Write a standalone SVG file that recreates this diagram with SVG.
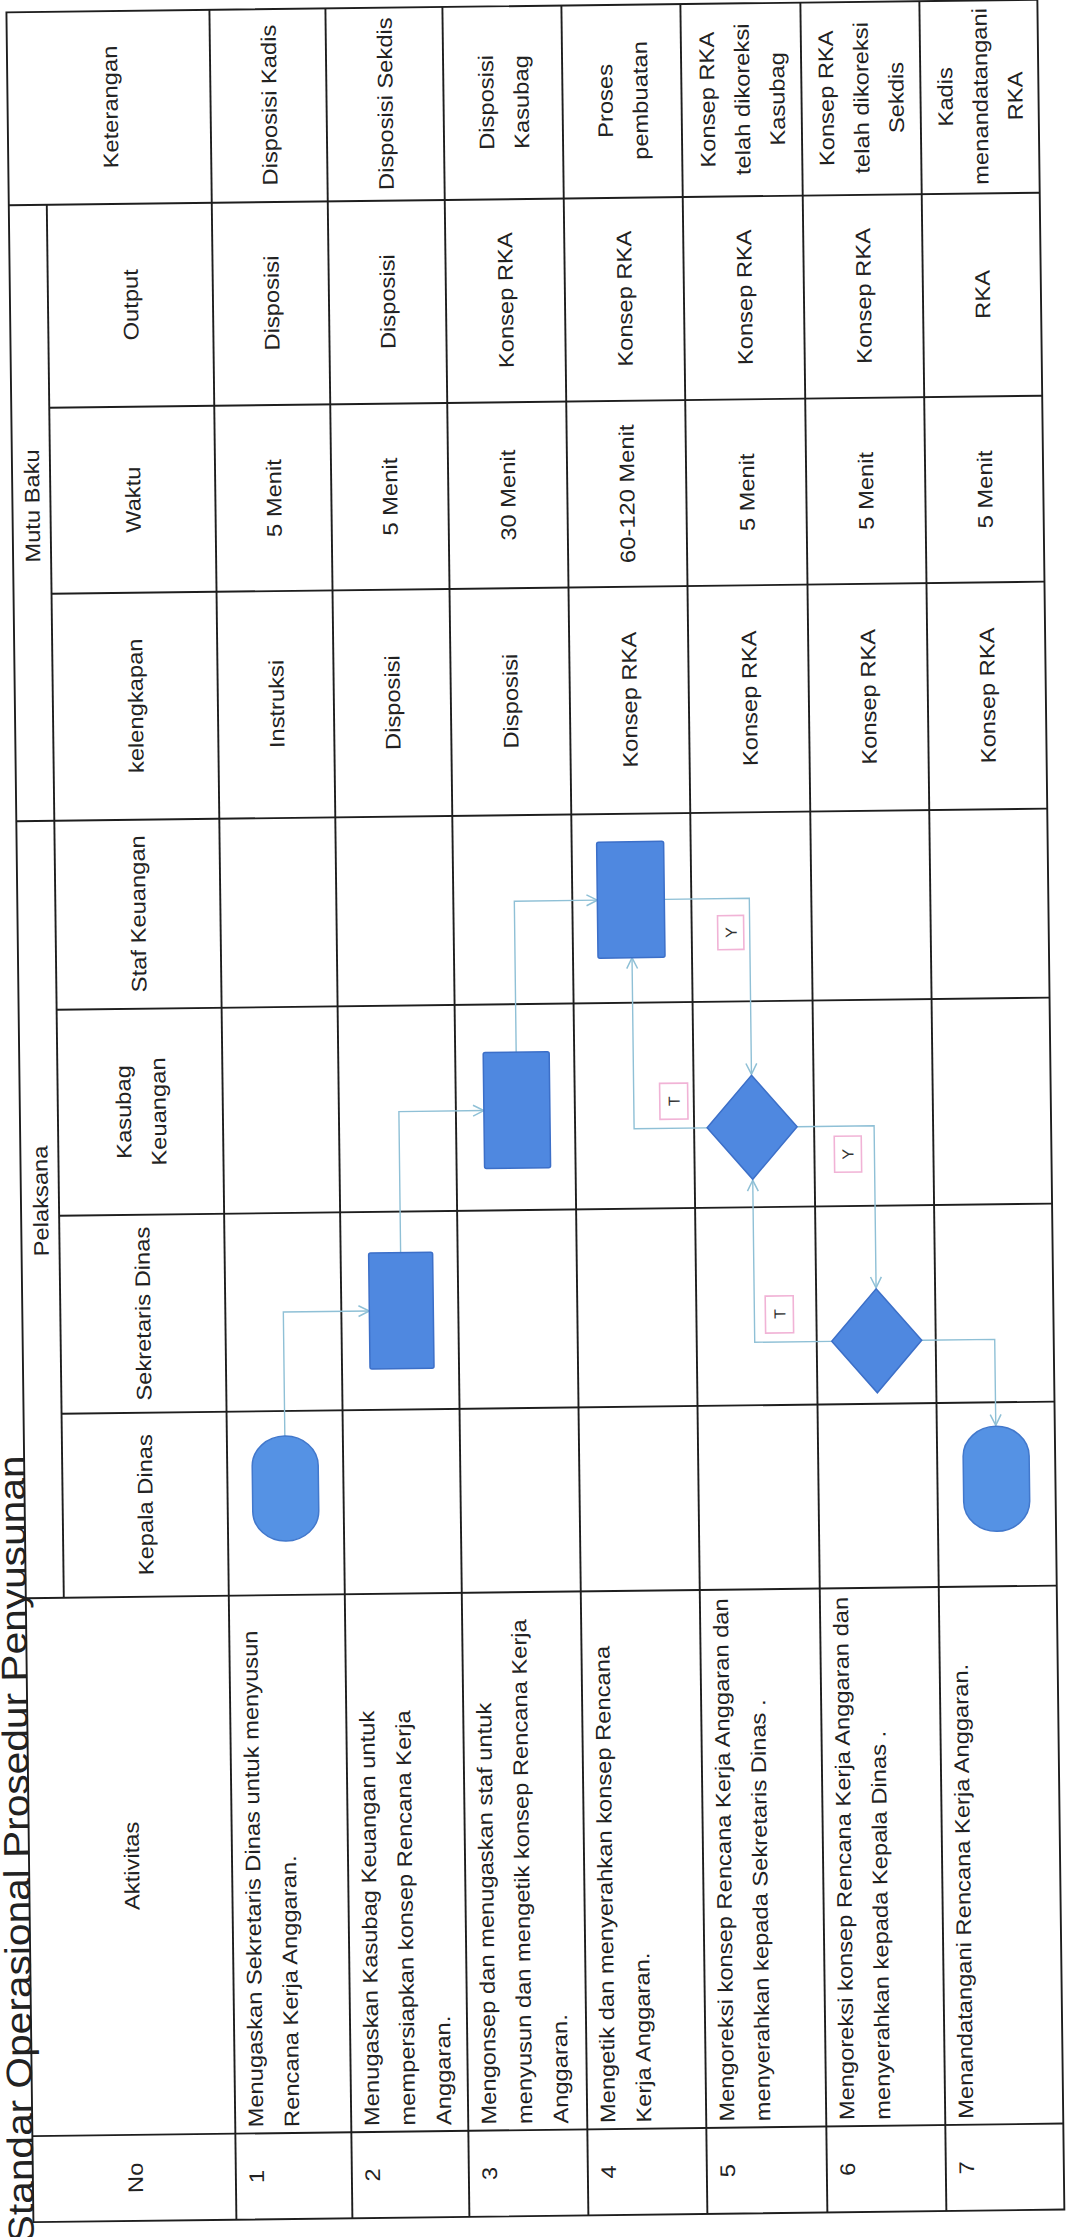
<svg xmlns="http://www.w3.org/2000/svg" width="1067" height="2237" viewBox="0 0 1067 2237">
<defs>
<style>
.g{stroke:#1e1e1e;stroke-width:1.9;fill:none}
.t{font-family:"Liberation Sans",Arial,sans-serif;font-size:21px;fill:#222}
.m{text-anchor:middle}
.s{text-anchor:start}
.shape{fill:#4f88e0;stroke:#3c6fc8;stroke-width:1.5}
.oval{fill:#5592e4;stroke:#4278cc;stroke-width:1.5}
.c{stroke:#8fc0d6;stroke-width:1.4;fill:none}
.lb{fill:#ffffff;stroke:#f1b3d6;stroke-width:1.6}
.lt{font-family:"Liberation Sans",Arial,sans-serif;font-size:16px;fill:#333;text-anchor:middle}
</style>
<marker id="ar" viewBox="0 0 12 12" refX="11" refY="6" markerWidth="13" markerHeight="13" markerUnits="userSpaceOnUse" orient="auto">
<path d="M1,1 L11,6 L1,11" fill="none" stroke="#8fc0d6" stroke-width="1.4"/>
</marker>
</defs>
<rect x="0" y="0" width="1067" height="2237" fill="#ffffff"/>
<g id="page" transform="rotate(-0.7 530 1120)">
<text class="t s" style="font-size:36px" transform="translate(20,2236) rotate(-90) scale(1.13,1)">Standar Operasional Prosedur Penyusunan</text>
<g id="grid">
<rect class="g" x="20" y="6" width="1031" height="2210"/>
<line class="g" x1="58" y1="199" x2="58" y2="1592"/>
<line class="g" x1="223" y1="6" x2="223" y2="2216"/>
<line class="g" x1="339" y1="6" x2="339" y2="2216"/>
<line class="g" x1="456" y1="6" x2="456" y2="2216"/>
<line class="g" x1="575" y1="6" x2="575" y2="2216"/>
<line class="g" x1="694" y1="6" x2="694" y2="2216"/>
<line class="g" x1="814" y1="6" x2="814" y2="2216"/>
<line class="g" x1="933" y1="6" x2="933" y2="2216"/>
<line class="g" x1="20" y1="199" x2="1051" y2="199"/>
<line class="g" x1="58" y1="402" x2="1051" y2="402"/>
<line class="g" x1="58" y1="588" x2="1051" y2="588"/>
<line class="g" x1="20" y1="815" x2="1051" y2="815"/>
<line class="g" x1="58" y1="1004" x2="1051" y2="1004"/>
<line class="g" x1="58" y1="1210" x2="1051" y2="1210"/>
<line class="g" x1="58" y1="1408" x2="1051" y2="1408"/>
<line class="g" x1="20" y1="1592" x2="1051" y2="1592"/>
<line class="g" x1="20" y1="2130" x2="1051" y2="2130"/>
</g>
<g id="headers">
<text class="t m" transform="translate(130,102) rotate(-90) scale(1.13,1)">Keterangan</text>
<text class="t m" transform="translate(47,500) rotate(-90) scale(1.13,1)">Mutu Baku</text>
<text class="t m" transform="translate(148,300) rotate(-90) scale(1.13,1)">Output</text>
<text class="t m" transform="translate(148,495) rotate(-90) scale(1.13,1)">Waktu</text>
<text class="t m" transform="translate(148,701) rotate(-90) scale(1.13,1)">kelengkapan</text>
<text class="t m" transform="translate(47,1195) rotate(-90) scale(1.13,1)">Pelaksana</text>
<text class="t m" transform="translate(148,909) rotate(-90) scale(1.13,1)">Staf Keuangan</text>
<text class="t m" transform="translate(131,1107) rotate(-90) scale(1.13,1)">Kasubag</text>
<text class="t m" transform="translate(166,1107) rotate(-90) scale(1.13,1)">Keuangan</text>
<text class="t m" transform="translate(148,1309) rotate(-90) scale(1.13,1)">Sekretaris Dinas</text>
<text class="t m" transform="translate(148,1500) rotate(-90) scale(1.13,1)">Kepala Dinas</text>
<text class="t m" transform="translate(130,1861) rotate(-90) scale(1.13,1)">Aktivitas</text>
<text class="t m" transform="translate(130,2173) rotate(-90) scale(1.13,1)">No</text>
</g>
<g id="rows">
<text class="t m" transform="translate(251,2173) rotate(-90) scale(1.13,1)">1</text>
<text class="t s" transform="translate(251,2124) rotate(-90) scale(1.13,1)">Menugaskan Sekretaris Dinas  untuk menyusun</text>
<text class="t s" transform="translate(287,2124) rotate(-90) scale(1.13,1)">Rencana Kerja Anggaran.</text>
<text class="t m" transform="translate(367,2173) rotate(-90) scale(1.13,1)">2</text>
<text class="t s" transform="translate(367,2124) rotate(-90) scale(1.13,1)">Menugaskan Kasubag Keuangan  untuk</text>
<text class="t s" transform="translate(403,2124) rotate(-90) scale(1.13,1)">mempersiapkan konsep Rencana Kerja</text>
<text class="t s" transform="translate(439,2124) rotate(-90) scale(1.13,1)">Anggaran.</text>
<text class="t m" transform="translate(484,2173) rotate(-90) scale(1.13,1)">3</text>
<text class="t s" transform="translate(484,2124) rotate(-90) scale(1.13,1)">Mengonsep dan menugaskan staf untuk</text>
<text class="t s" transform="translate(520,2124) rotate(-90) scale(1.13,1)">menyusun dan mengetik konsep Rencana Kerja</text>
<text class="t s" transform="translate(556,2124) rotate(-90) scale(1.13,1)">Anggaran.</text>
<text class="t m" transform="translate(603,2173) rotate(-90) scale(1.13,1)">4</text>
<text class="t s" transform="translate(603,2124) rotate(-90) scale(1.13,1)">Mengetik dan menyerahkan konsep Rencana</text>
<text class="t s" transform="translate(639,2124) rotate(-90) scale(1.13,1)">Kerja Anggaran.</text>
<text class="t m" transform="translate(722,2173) rotate(-90) scale(1.13,1)">5</text>
<text class="t s" transform="translate(722,2124) rotate(-90) scale(1.13,1)">Mengoreksi konsep Rencana Kerja Anggaran dan</text>
<text class="t s" transform="translate(758,2124) rotate(-90) scale(1.13,1)">menyerahkan kepada Sekretaris Dinas .</text>
<text class="t m" transform="translate(842,2173) rotate(-90) scale(1.13,1)">6</text>
<text class="t s" transform="translate(842,2124) rotate(-90) scale(1.13,1)">Mengoreksi konsep Rencana Kerja Anggaran dan</text>
<text class="t s" transform="translate(878,2124) rotate(-90) scale(1.13,1)">menyerahkan kepada Kepala Dinas .</text>
<text class="t m" transform="translate(961,2173) rotate(-90) scale(1.13,1)">7</text>
<text class="t s" transform="translate(961,2124) rotate(-90) scale(1.13,1)">Menandatangani Rencana Kerja Anggaran.</text>
</g>
<g id="mutu">
<text class="t m" transform="translate(289,701) rotate(-90) scale(1.13,1)">Instruksi</text>
<text class="t m" transform="translate(289,495) rotate(-90) scale(1.13,1)">5 Menit</text>
<text class="t m" transform="translate(289,300) rotate(-90) scale(1.13,1)">Disposisi</text>
<text class="t m" transform="translate(289,102) rotate(-90) scale(1.13,1)">Disposisi Kadis</text>
<text class="t m" transform="translate(405,701) rotate(-90) scale(1.13,1)">Disposisi</text>
<text class="t m" transform="translate(405,495) rotate(-90) scale(1.13,1)">5 Menit</text>
<text class="t m" transform="translate(405,300) rotate(-90) scale(1.13,1)">Disposisi</text>
<text class="t m" transform="translate(405,102) rotate(-90) scale(1.13,1)">Disposisi Sekdis</text>
<text class="t m" transform="translate(523,701) rotate(-90) scale(1.13,1)">Disposisi</text>
<text class="t m" transform="translate(523,495) rotate(-90) scale(1.13,1)">30 Menit</text>
<text class="t m" transform="translate(523,300) rotate(-90) scale(1.13,1)">Konsep RKA</text>
<text class="t m" transform="translate(506,102) rotate(-90) scale(1.13,1)">Disposisi</text>
<text class="t m" transform="translate(541,102) rotate(-90) scale(1.13,1)">Kasubag</text>
<text class="t m" transform="translate(642,701) rotate(-90) scale(1.13,1)">Konsep RKA</text>
<text class="t m" transform="translate(642,495) rotate(-90) scale(1.13,1)">60-120 Menit</text>
<text class="t m" transform="translate(642,300) rotate(-90) scale(1.13,1)">Konsep RKA</text>
<text class="t m" transform="translate(625,102) rotate(-90) scale(1.13,1)">Proses</text>
<text class="t m" transform="translate(660,102) rotate(-90) scale(1.13,1)">pembuatan</text>
<text class="t m" transform="translate(762,701) rotate(-90) scale(1.13,1)">Konsep RKA</text>
<text class="t m" transform="translate(762,495) rotate(-90) scale(1.13,1)">5 Menit</text>
<text class="t m" transform="translate(762,300) rotate(-90) scale(1.13,1)">Konsep RKA</text>
<text class="t m" transform="translate(727,102) rotate(-90) scale(1.13,1)">Konsep RKA</text>
<text class="t m" transform="translate(762,102) rotate(-90) scale(1.13,1)">telah dikoreksi</text>
<text class="t m" transform="translate(797,102) rotate(-90) scale(1.13,1)">Kasubag</text>
<text class="t m" transform="translate(881,701) rotate(-90) scale(1.13,1)">Konsep RKA</text>
<text class="t m" transform="translate(881,495) rotate(-90) scale(1.13,1)">5 Menit</text>
<text class="t m" transform="translate(881,300) rotate(-90) scale(1.13,1)">Konsep RKA</text>
<text class="t m" transform="translate(846,102) rotate(-90) scale(1.13,1)">Konsep RKA</text>
<text class="t m" transform="translate(881,102) rotate(-90) scale(1.13,1)">telah dikoreksi</text>
<text class="t m" transform="translate(916,102) rotate(-90) scale(1.13,1)">Sekdis</text>
<text class="t m" transform="translate(1000,701) rotate(-90) scale(1.13,1)">Konsep RKA</text>
<text class="t m" transform="translate(1000,495) rotate(-90) scale(1.13,1)">5 Menit</text>
<text class="t m" transform="translate(1000,300) rotate(-90) scale(1.13,1)">RKA</text>
<text class="t m" transform="translate(965,102) rotate(-90) scale(1.13,1)">Kadis</text>
<text class="t m" transform="translate(1000,102) rotate(-90) scale(1.13,1)">menandatangani</text>
<text class="t m" transform="translate(1035,102) rotate(-90) scale(1.13,1)">RKA</text>
</g>
<g id="connectors">
<path class="c" d="M281,1433 V1309 H367" marker-end="url(#ar)"/>
<path class="c" d="M399,1251 V1110 H484" marker-end="url(#ar)"/>
<path class="c" d="M517,1052 V901 H600" marker-end="url(#ar)"/>
<path class="c" d="M667,901 H752 V1077" marker-end="url(#ar)"/>
<path class="c" d="M707,1130 H634 V959" marker-end="url(#ar)"/>
<path class="c" d="M797,1130 H874 V1292" marker-end="url(#ar)"/>
<path class="c" d="M829,1345 H752 V1183" marker-end="url(#ar)"/>
<path class="c" d="M919,1345 H992 V1431" marker-end="url(#ar)"/>
<rect class="lb" x="720" y="918" width="26" height="34"/>
<text class="lt" transform="translate(739,935) rotate(-90)">Y</text>
<rect class="lb" x="660" y="1085" width="28" height="36"/>
<text class="lt" transform="translate(680,1103) rotate(-90)">T</text>
<rect class="lb" x="834" y="1140" width="27" height="36"/>
<text class="lt" transform="translate(853,1158) rotate(-90)">Y</text>
<rect class="lb" x="763" y="1299" width="28" height="37"/>
<text class="lt" transform="translate(783,1317) rotate(-90)">T</text>
</g>
<g id="node-kepala-start"><rect class="oval" x="248" y="1433" width="66" height="105" rx="33" ry="30"/></g>
<g id="node-sekdis"><rect class="shape" x="367" y="1251" width="64" height="116" rx="2"/></g>
<g id="node-kasubag"><rect class="shape" x="484" y="1052" width="66" height="116" rx="2"/></g>
<g id="node-staf"><rect class="shape" x="600" y="843" width="67" height="116" rx="2"/></g>
<g id="node-koreksi-kasubag"><polygon class="shape" points="752,1078 797,1130 752,1182 707,1130"/></g>
<g id="node-koreksi-sekdis"><polygon class="shape" points="874,1293 919,1345 874,1397 829,1345"/></g>
<g id="node-kepala-end"><rect class="oval" x="959" y="1432" width="66" height="105" rx="33" ry="30"/></g>
</g>
</svg>
